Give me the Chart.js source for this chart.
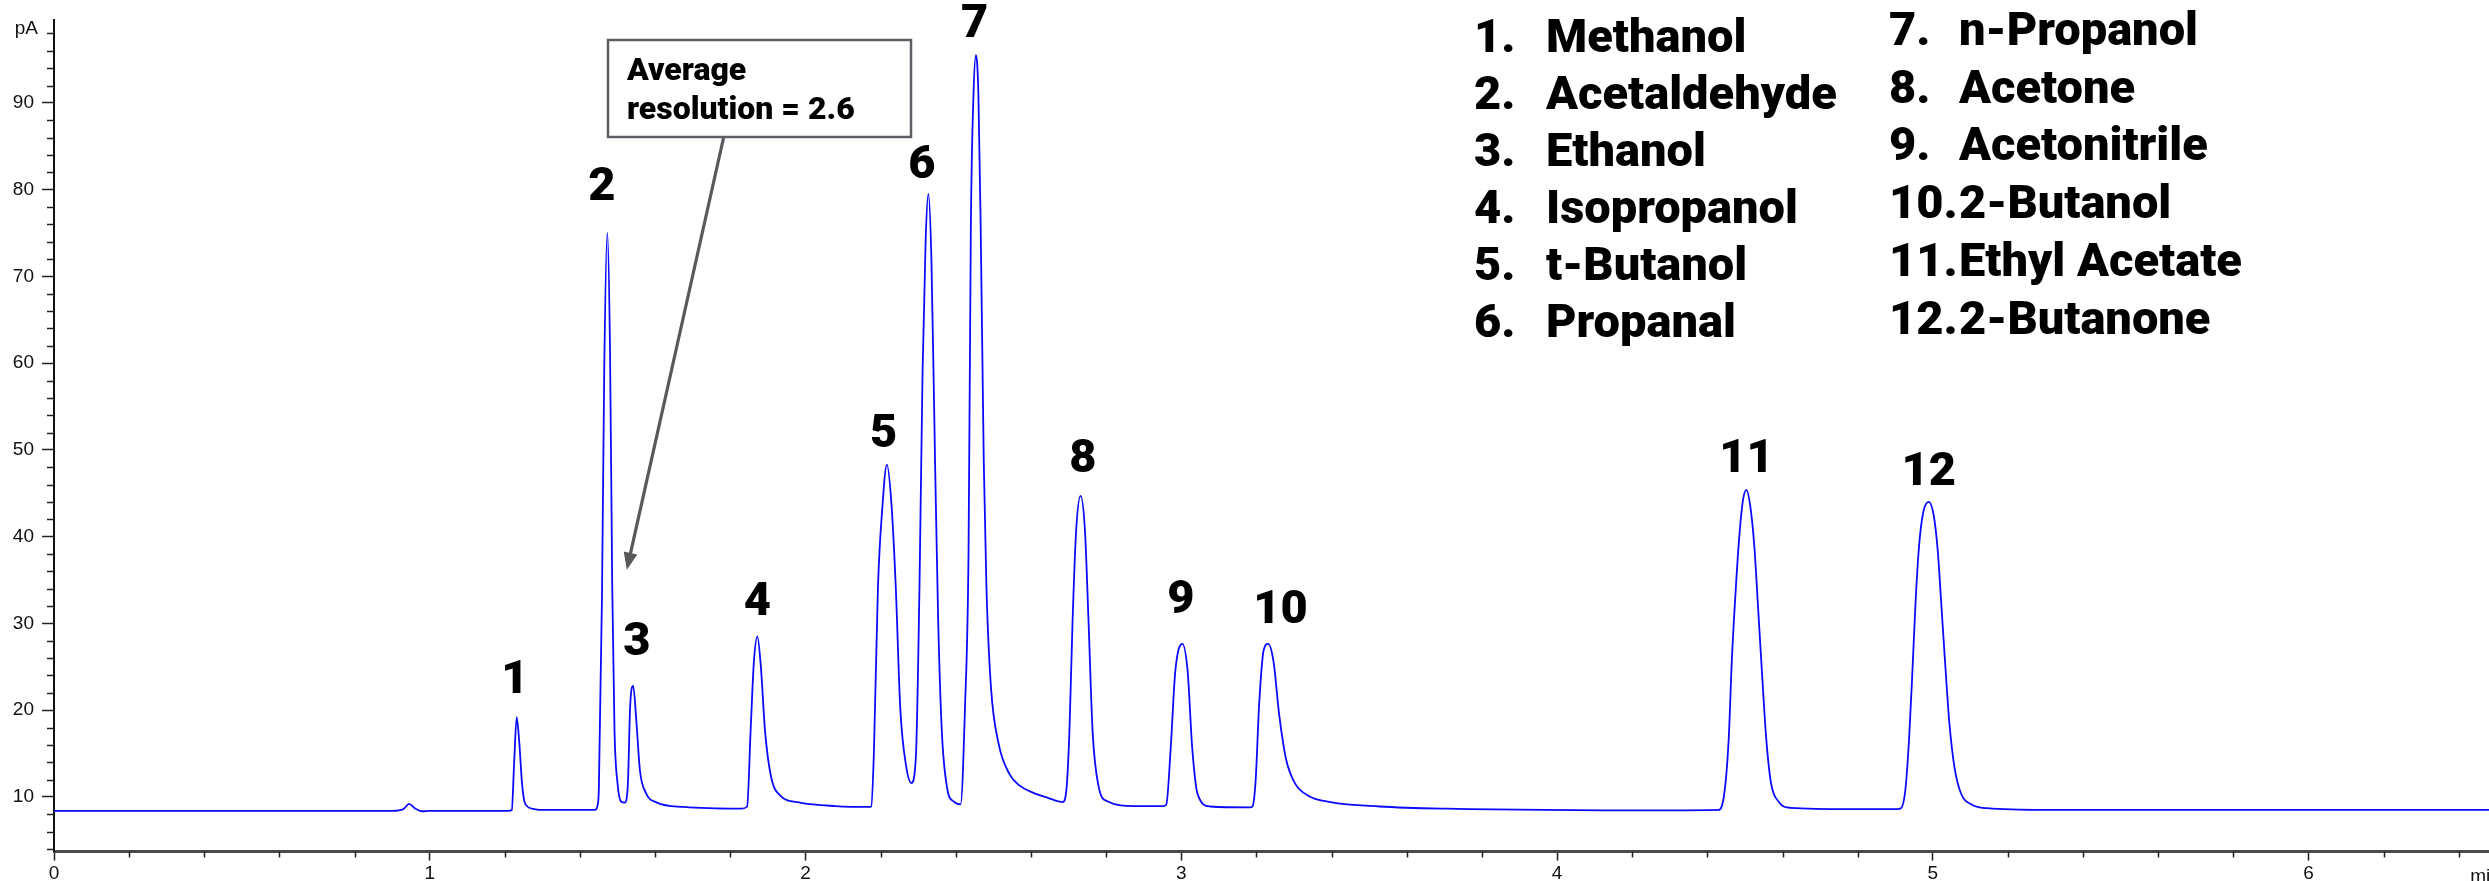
<!DOCTYPE html>
<html>
<head>
<meta charset="utf-8">
<script src="https://cdn.jsdelivr.net/npm/chart.js@4.4.1/dist/chart.umd.min.js"></script>
<style>
  html, body { margin: 0; padding: 0; background: #fff; }
  #wrap { width: 2489px; height: 881px; }
</style>
</head>
<body>
<div id="wrap"><canvas id="chrom" width="2489" height="881"></canvas></div>
<script>
// retention time (min) and FID signal (pA)
const times = [
  0.00, 0.90, 0.93, 0.945, 0.96, 0.98, 1.00, 1.21,
  1.2183, 1.2242, 1.2313, 1.2385, 1.2456, 1.254, 1.278, 1.30,
  1.44, 1.4464, 1.450, 1.4583, 1.4642, 1.4725, 1.4797, 1.4856, 1.4916, 1.4998, 1.5094,
  1.5188, 1.5272, 1.5331, 1.5414, 1.5498, 1.5593, 1.5747, 1.6044, 1.6758, 1.830,
  1.8445, 1.8539, 1.8623, 1.8718, 1.8813, 1.892, 1.9074, 1.9313, 1.9846, 2.0798, 2.1688,
  2.1748, 2.1819, 2.1927, 2.2045, 2.2164, 2.2284, 2.2401, 2.2520, 2.2675, 2.2817,
  2.2936, 2.3032, 2.3114, 2.3197, 2.3269, 2.3351, 2.3447, 2.3529, 2.3625, 2.3769, 2.3947, 2.4125,
  2.4243, 2.4338, 2.4400, 2.4470, 2.4533, 2.4600, 2.4660, 2.4743, 2.4814, 2.4932, 2.5135,
  2.5432, 2.5700, 2.6050, 2.6450, 2.6843,
  2.6939, 2.7022, 2.7104, 2.7200, 2.7320, 2.7437, 2.7533, 2.7640, 2.7794, 2.8030, 2.8743, 2.9515,
  2.9600, 2.9718, 2.9838, 3.0027, 3.0170, 3.0290, 3.0432, 3.0764, 3.1834,
  3.1893, 3.1978, 3.2071, 3.2191, 3.2310, 3.2452, 3.2607, 3.2785, 3.3022, 3.3378, 3.3974, 3.5280, 3.7060, 4.30,
  4.4300, 4.4450, 4.4566, 4.4655, 4.4743, 4.4841, 4.4947, 4.5036, 4.5142, 4.5249, 4.5337, 4.5453, 4.5568,
  4.5693, 4.5896, 4.6207, 4.7804, 4.9047,
  4.9153, 4.9268, 4.9366, 4.9454, 4.9543, 4.9632, 4.9739, 4.9889, 5.0021, 5.0128, 5.0218, 5.0315, 5.0440,
  5.0572, 5.0750, 5.1043, 5.1443, 5.30, 6.48
];
const signal = [
  8.4, 8.4, 8.6, 9.2, 8.7, 8.35, 8.4, 8.4,
  8.5, 13.6, 19.2, 16.1, 11.5, 9.2, 8.6, 8.5,
  8.5, 9.0, 11.0, 33.1, 58.9, 75.0, 61.4, 34.2, 17.7, 11.5, 9.45,
  9.35, 11.5, 20.3, 22.8, 18.7, 13.05, 10.5, 9.35, 8.85, 8.65,
  8.9, 17.7, 25.4, 28.5, 24.9, 17.7, 12.5, 10.2, 9.35, 8.95, 8.85,
  8.9, 15.1, 34.2, 43.4, 48.3, 43.9, 34.2, 20.3, 13.6, 11.6,
  14.6, 34.2, 58.9, 74.3, 79.5, 71.7, 48.6, 30.5, 17.7, 11.0, 9.45, 9.15,
  20.3, 38.3, 76.0, 91.0, 95.5, 91.0, 76.0, 48.6, 34.2, 22.8, 16.2,
  12.6, 11.3, 10.5, 9.9, 9.4,
  10.7, 17.5, 30.0, 40.6, 44.7, 40.6, 30.0, 17.5, 11.3, 9.5, 8.95, 8.95,
  9.1, 15.65, 24.4, 27.65, 24.4, 15.65, 10.35, 8.9, 8.8,
  8.9, 11.9, 20.65, 26.9, 27.65, 25.65, 19.4, 14.4, 11.6, 10.15, 9.4, 8.9, 8.65, 8.45,
  8.5, 10.4, 16.6, 26.2, 33.1, 39.6, 44.2, 45.4, 43.5, 38.9, 32.7, 24.3, 16.6,
  11.6, 9.45, 8.75, 8.6, 8.6,
  8.7, 10.8, 16.6, 24.3, 32.7, 38.9, 42.7, 44.0, 42.5, 38.5, 32.7, 26.2, 18.5,
  13.5, 10.4, 9.1, 8.7, 8.5, 8.5
];

// peak numbers and where they sit (time, pA)
const peakNumbers = ["1", "2", "3", "4", "5", "6", "7", "8", "9", "10", "11", "12"];
const peakLabelTimes = [1.2265, 1.458, 1.551, 1.8717, 2.208, 2.3095, 2.450, 2.738, 2.999, 3.264, 4.504, 4.989];
const peakLabelLevels = [23.3, 80.2, 27.7, 32.35, 51.65, 82.7, 98.9, 48.8, 32.5, 31.4, 48.85, 47.3];

const compoundNumbers = ["1.", "2.", "3.", "4.", "5.", "6.", "7.", "8.", "9.", "10.", "11.", "12."];
const compoundNames = [
  "Methanol", "Acetaldehyde", "Ethanol", "Isopropanol", "t-Butanol", "Propanal",
  "n-Propanol", "Acetone", "Acetonitrile", "2-Butanol", "Ethyl Acetate", "2-Butanone"
];

const xMajorTicks = [0, 1, 2, 3, 4, 5, 6];
const yMajorTicks = [10, 20, 30, 40, 50, 60, 70, 80, 90];

function isMajor(v, list) {
  return list.some(m => Math.abs(m - v) < 1e-6);
}

const decor = {
  id: "decor",
  afterDraw(chart) {
    const { ctx, chartArea: a, scales: { x, y } } = chart;
    ctx.save();

    // short minor ticks
    ctx.strokeStyle = "#222";
    ctx.lineWidth = 1.5;
    ctx.beginPath();
    x.ticks.forEach(t => {
      if (isMajor(t.value, xMajorTicks)) return;
      const px = Math.round(x.getPixelForValue(t.value)) + 0.5;
      ctx.moveTo(px, a.bottom);
      ctx.lineTo(px, a.bottom + 6);
    });
    y.ticks.forEach(t => {
      if (isMajor(t.value, yMajorTicks)) return;
      const py = Math.round(y.getPixelForValue(t.value)) + 0.5;
      ctx.moveTo(a.left - 7, py);
      ctx.lineTo(a.left, py);
    });
    ctx.stroke();

    // unit labels
    ctx.fillStyle = "#111";
    ctx.font = "19px 'Liberation Sans'";
    ctx.textAlign = "right";
    ctx.textBaseline = "middle";
    ctx.fillText("pA", 38, y.getPixelForValue(98.6));
    ctx.textAlign = "left";
    ctx.textBaseline = "top";
    ctx.fillText("min", x.getPixelForValue(6.43), 867);

    // peak numbers
    ctx.fillStyle = "#000";
    ctx.font = "900 47px Roboto";
    ctx.textAlign = "center";
    ctx.textBaseline = "middle";
    peakNumbers.forEach((n, i) => {
      ctx.fillText(n, x.getPixelForValue(peakLabelTimes[i]), y.getPixelForValue(peakLabelLevels[i]));
    });

    // compound list, two columns of six
    ctx.font = "900 47px Roboto";
    ctx.textAlign = "left";
    ctx.textBaseline = "alphabetic";
    compoundNames.forEach((name, i) => {
      const col = i < 6 ? 0 : 1;
      const row = i % 6;
      const numX = col ? 1889 : 1474;
      const nameX = col ? 1959 : 1546;
      const base = col ? 45 + row * 57.7 : 51.7 + row * 57;
      ctx.fillText(compoundNumbers[i], numX, base);
      ctx.fillText(name, nameX, base);
    });

    // resolution callout
    ctx.strokeStyle = "#5d6166";
    ctx.lineWidth = 2.5;
    ctx.fillStyle = "#fff";
    ctx.fillRect(608, 40, 303, 97);
    ctx.strokeRect(608, 40, 303, 97);
    ctx.fillStyle = "#000";
    ctx.font = "900 32px Roboto";
    ctx.fillText("Average", 627, 80);
    ctx.fillText("resolution = 2.6", 627, 119);

    const sx = 723.5, sy = 138;
    const tx = x.getPixelForValue(1.5244), ty = y.getPixelForValue(36.2);
    const ang = Math.atan2(ty - sy, tx - sx);
    const head = 17, half = 7;
    ctx.strokeStyle = "#58595b";
    ctx.fillStyle = "#58595b";
    ctx.lineWidth = 3.2;
    ctx.beginPath();
    ctx.moveTo(sx, sy);
    ctx.lineTo(tx - Math.cos(ang) * head * 0.8, ty - Math.sin(ang) * head * 0.8);
    ctx.stroke();
    ctx.beginPath();
    ctx.moveTo(tx, ty);
    ctx.lineTo(tx - Math.cos(ang) * head - Math.sin(ang) * half, ty - Math.sin(ang) * head + Math.cos(ang) * half);
    ctx.lineTo(tx - Math.cos(ang) * head + Math.sin(ang) * half, ty - Math.sin(ang) * head - Math.cos(ang) * half);
    ctx.closePath();
    ctx.fill();

    ctx.restore();
  }
};

new Chart(document.getElementById("chrom"), {
  type: "line",
  data: {
    datasets: [{
      data: times.map((t, i) => ({ x: t, y: signal[i] })),
      borderColor: "#0a0aff",
      borderWidth: 1.8,
      pointRadius: 0,
      cubicInterpolationMode: "monotone",
      fill: false
    }]
  },
  options: {
    responsive: false,
    animation: false,
    devicePixelRatio: 1,
    layout: { padding: { top: 19.6, right: 0, left: 0, bottom: 0 } },
    plugins: { legend: { display: false }, tooltip: { enabled: false } },
    scales: {
      x: {
        type: "linear",
        min: 0,
        max: 6.48,
        afterFit: s => { s.height = 29.4; },
        border: { display: true, color: "#4a4a4a", width: 3 },
        grid: {
          drawOnChartArea: false,
          drawTicks: true,
          tickLength: 9,
          tickWidth: 1.5,
          tickColor: c => (c.tick && isMajor(c.tick.value, xMajorTicks)) ? "#222" : "rgba(0,0,0,0)"
        },
        ticks: {
          stepSize: 0.2,
          autoSkip: false,
          maxRotation: 0,
          includeBounds: false,
          padding: 2,
          color: "#111",
          font: { family: "'Liberation Sans'", size: 19 },
          callback: v => isMajor(v, xMajorTicks) ? String(Math.round(v)) : ""
        }
      },
      y: {
        min: 3.7,
        max: 99.6,
        afterFit: s => { s.width = 54; },
        border: { display: true, color: "#111", width: 2 },
        grid: {
          drawOnChartArea: false,
          drawTicks: true,
          tickLength: 12,
          tickWidth: 1.5,
          tickColor: c => (c.tick && isMajor(c.tick.value, yMajorTicks)) ? "#222" : "rgba(0,0,0,0)"
        },
        ticks: {
          stepSize: 2,
          autoSkip: false,
          includeBounds: false,
          padding: 8,
          color: "#111",
          font: { family: "'Liberation Sans'", size: 19 },
          callback: v => isMajor(v, yMajorTicks) ? String(Math.round(v)) : ""
        }
      }
    }
  },
  plugins: [decor]
});
</script>
</body>
</html>
